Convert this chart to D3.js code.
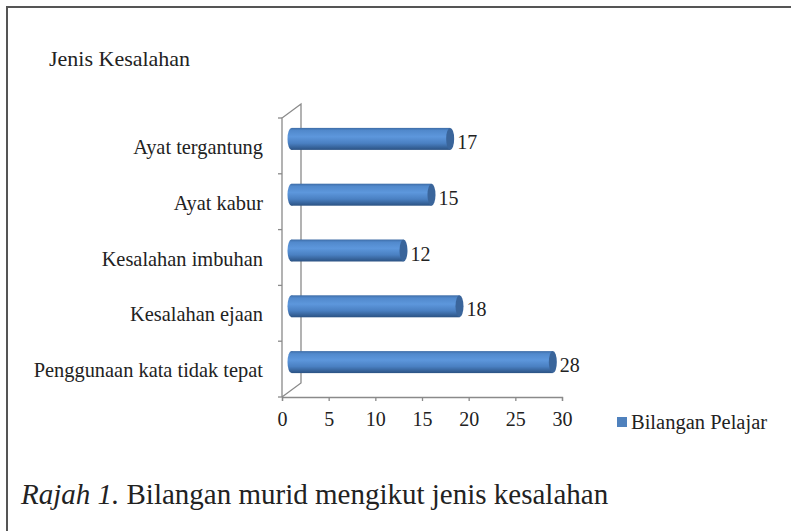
<!DOCTYPE html>
<html><head><meta charset="utf-8">
<script src="https://cdn.jsdelivr.net/npm/d3@7"></script>
<style>body{margin:0;background:#fff}svg{display:block}text,tspan{font-family:"Liberation Serif","Times New Roman",serif;fill:#222}</style>
</head><body><svg id="c" width="791" height="531"></svg>
<script>
const categories = ["Ayat tergantung","Ayat kabur","Kesalahan imbuhan","Kesalahan ejaan","Penggunaan kata tidak tepat"];
const values = [17,15,12,18,28];
const xTicks = [0,5,10,15,20,25,30];
const seriesName = "Bilangan Pelajar";
const axisTitle = "Jenis Kesalahan";
const caption = ["Rajah 1.", " Bilangan murid mengikut jenis kesalahan"];

const svg = d3.select("#c");
const defs = svg.append("defs");
const g1 = defs.append("linearGradient").attr("id","cyl").attr("x1",0).attr("y1",0).attr("x2",0).attr("y2",1);
[[0,"#3d6ca6"],[0.12,"#5189cc"],[0.4,"#5d97dc"],[0.7,"#4a80c2"],[1,"#2b5283"]].forEach(([o,c])=>g1.append("stop").attr("offset",o).attr("stop-color",c));

// frame
svg.append("rect").attr("x",7).attr("y",7).attr("width",800).attr("height",540).attr("fill","none").attr("stroke","#555").attr("stroke-width",2);

const x0 = 282, x1 = 562, yTop = 118, yBot = 397;
const dx = 19, dy = -14;
const x = d3.scaleLinear().domain([0,30]).range([x0,x1]);
const y = d3.scaleBand().domain(categories).range([yTop,yBot]).padding(0);
const axisColor = "#8a8a8a";

// walls/axes
const ax = svg.append("g").attr("stroke",axisColor).attr("stroke-width",1.3).attr("fill","none");
ax.append("path").attr("d",`M${x0},${yBot}L${x0},${yTop}L${x0+dx},${yTop+dy}L${x0+dx},${yBot+dy}L${x0},${yBot}`);
const bounds = categories.map(c=>y(c)).concat([yBot]);
ax.selectAll("line.ct").data(bounds).join("line").attr("x1",x0-4).attr("x2",x0).attr("y1",d=>d).attr("y2",d=>d);

// x axis
const xAxis = svg.append("g").attr("transform",`translate(0,${yBot})`)
  .call(d3.axisBottom(x).tickValues(xTicks).tickSize(4).tickPadding(11).tickFormat(d3.format("d")));
xAxis.select(".domain").attr("stroke",axisColor).attr("stroke-width",1.3);
xAxis.selectAll(".tick line").attr("stroke",axisColor).attr("stroke-width",1.3);
xAxis.selectAll(".tick text").attr("font-size",20).attr("font-family","Liberation Serif").attr("fill","#222");

// category labels
svg.selectAll("text.cat").data(categories).join("text").attr("class","cat")
  .attr("x",263).attr("y",d=>y(d)+y.bandwidth()/2+8).attr("text-anchor","end").attr("font-size",20.4).text(d=>d);

// bars (cylinders)
const bh = 22, rx = 4;
const bars = svg.selectAll("g.bar").data(categories.map((c,i)=>({c,v:values[i]}))).join("g").attr("class","bar");
const cy = d=>y(d.c)+y.bandwidth()/2 + dy/2;
const bx = v=>x(v)+dx/2;
bars.append("rect").attr("x",d=>bx(0)).attr("y",d=>cy(d)-bh/2).attr("width",d=>bx(d.v)-bx(0)).attr("height",bh).attr("fill","url(#cyl)");
bars.append("ellipse").attr("cx",d=>bx(0)).attr("cy",d=>cy(d)).attr("rx",rx).attr("ry",bh/2).attr("fill","url(#cyl)");
bars.append("ellipse").attr("cx",d=>bx(d.v)).attr("cy",d=>cy(d)).attr("rx",rx).attr("ry",bh/2).attr("fill","#3a659b");
bars.append("text").attr("x",d=>bx(d.v)+rx+3).attr("y",d=>cy(d)+10).attr("font-size",20).text(d=>d.v);

// axis title
svg.append("text").attr("x",49).attr("y",66).attr("font-size",22).text(axisTitle);

// legend
svg.append("rect").attr("x",617).attr("y",417).attr("width",10).attr("height",10).attr("fill","#4f81bd");
svg.append("text").attr("x",631).attr("y",429).attr("font-size",20.5).text(seriesName);

// caption
const cap = svg.append("text").attr("x",21).attr("y",504).attr("font-size",29).attr("font-family","Liberation Serif");
cap.append("tspan").attr("font-style","italic").text(caption[0]);
cap.append("tspan").text(caption[1]);
</script></body></html>
